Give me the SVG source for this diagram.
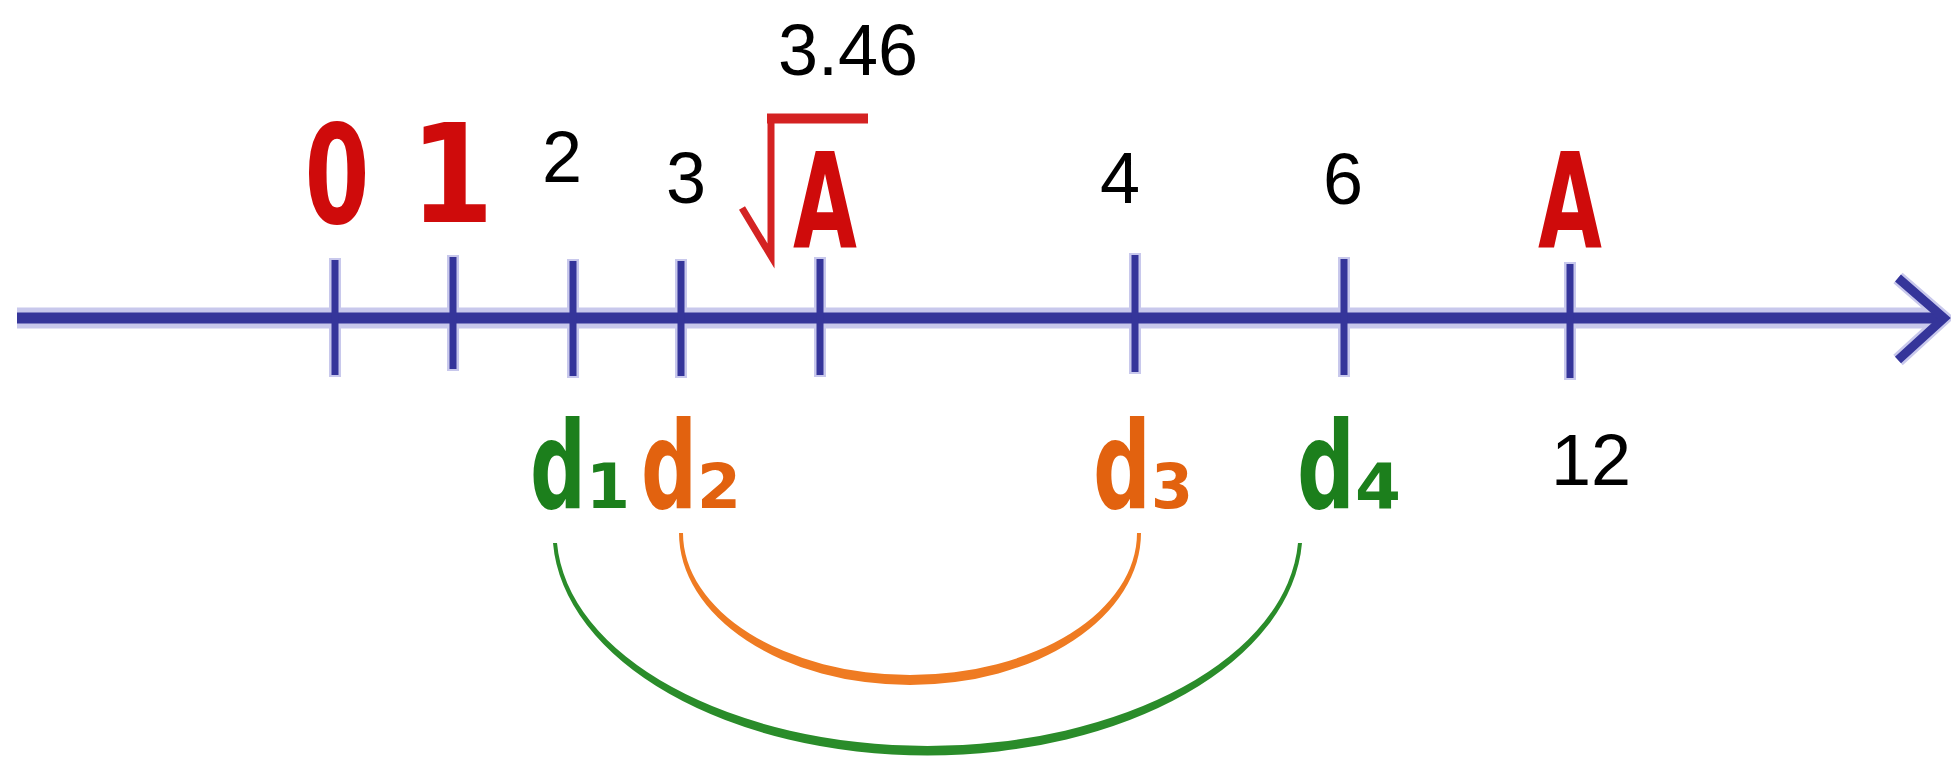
<svg xmlns="http://www.w3.org/2000/svg" width="1951" height="774" viewBox="0 0 1951 774">
<style>
.halo{stroke:#c8c8ec;fill:none;stroke-linecap:butt}
.core{stroke:#35359a;fill:none;stroke-linecap:butt}
.num{font-family:"Liberation Sans",Arial,sans-serif;font-size:72px;fill:#000;text-anchor:middle}
.red{font-family:"DejaVu Sans",sans-serif;font-weight:bold;fill:#cf0b0b;text-anchor:middle}
.dl{font-family:"DejaVu Sans",sans-serif;font-weight:bold}
.g{fill:#1c7f1c}
.o{fill:#e2620f}
.big{font-size:122px}
.sub{font-size:63px}
</style>
<rect width="1951" height="774" fill="#fff"/>
<g id="axis">
  <line class="halo" x1="17" y1="318" x2="1938" y2="318" stroke-width="21"/>
  <g class="halo" stroke-width="12">
    <line x1="335" y1="258" x2="335" y2="377"/>
    <line x1="453" y1="255" x2="453" y2="371"/>
    <line x1="573" y1="259" x2="573" y2="378"/>
    <line x1="681" y1="259" x2="681" y2="378"/>
    <line x1="820" y1="257" x2="820" y2="377"/>
    <line x1="1135" y1="253" x2="1135" y2="374"/>
    <line x1="1344" y1="257" x2="1344" y2="377"/>
    <line x1="1570" y1="262" x2="1570" y2="380"/>
  </g>
  <polyline class="halo" points="1898,278 1944,318 1898,360" stroke-width="14" stroke-linejoin="miter"/>
  <line class="core" x1="17" y1="318" x2="1940" y2="318" stroke-width="11"/>
  <polyline class="core" points="1898,278 1944,318 1898,360" stroke-width="9" stroke-linejoin="miter"/>
  <g class="core" stroke-width="7">
    <line x1="335" y1="260" x2="335" y2="375"/>
    <line x1="453" y1="257" x2="453" y2="369"/>
    <line x1="573" y1="261" x2="573" y2="376"/>
    <line x1="681" y1="261" x2="681" y2="376"/>
    <line x1="820" y1="259" x2="820" y2="375"/>
    <line x1="1135" y1="255" x2="1135" y2="372"/>
    <line x1="1344" y1="259" x2="1344" y2="375"/>
    <line x1="1570" y1="264" x2="1570" y2="378"/>
  </g>
</g>
<g id="label-0"><text class="red" font-size="137" x="337" y="223" textLength="65" lengthAdjust="spacingAndGlyphs">0</text></g>
<g id="label-1"><text class="red" font-size="137" x="452" y="222" textLength="84" lengthAdjust="spacingAndGlyphs">1</text></g>
<g id="label-2"><text class="num" x="562" y="182">2</text></g>
<g id="label-3"><text class="num" x="686" y="203">3</text></g>
<g id="label-346"><text class="num" x="848" y="75" font-size="77">3.46</text></g>
<g id="label-sqrtA">
  <path d="M742,208 L771,256 L771,118" fill="none" stroke="#d42222" stroke-width="7" stroke-linejoin="miter"/>
  <line x1="767" y1="118.5" x2="868" y2="118.5" stroke="#d42222" stroke-width="10"/>
  <text class="red" font-size="132" x="825" y="248" textLength="64" lengthAdjust="spacingAndGlyphs">A</text>
</g>
<g id="label-4"><text class="num" x="1120" y="203">4</text></g>
<g id="label-6"><text class="num" x="1343" y="204">6</text></g>
<g id="label-A"><text class="red" font-size="132" x="1570" y="248" textLength="64" lengthAdjust="spacingAndGlyphs">A</text></g>
<g id="label-12"><text class="num" x="1591" y="485">12</text></g>
<g id="label-d1">
  <text class="dl g" x="530" y="508"><tspan class="big" textLength="56" lengthAdjust="spacingAndGlyphs">d</tspan><tspan class="sub" textLength="44" lengthAdjust="spacingAndGlyphs">1</tspan></text>
</g>
<g id="label-d2">
  <text class="dl o" x="641" y="508"><tspan class="big" textLength="56" lengthAdjust="spacingAndGlyphs">d</tspan><tspan class="sub" textLength="44" lengthAdjust="spacingAndGlyphs">2</tspan></text>
</g>
<g id="label-d3">
  <text class="dl o" x="1093" y="508"><tspan class="big" textLength="58" lengthAdjust="spacingAndGlyphs">d</tspan><tspan class="sub" textLength="42" lengthAdjust="spacingAndGlyphs">3</tspan></text>
</g>
<g id="label-d4">
  <text class="dl g" x="1297" y="508"><tspan class="big" textLength="58" lengthAdjust="spacingAndGlyphs">d</tspan><tspan class="sub" textLength="46" lengthAdjust="spacingAndGlyphs">4</tspan></text>
</g>
<g id="connectors">
  <path d="M679,533 A231,152 0 0 0 1141,533 L1137,533 A227,142 0 0 1 683,533 Z" fill="#ef7b22"/>
  <path d="M553,543 A375,224 0 0 0 1302,543 L1298,543 A371,214 0 0 1 557,543 Z" fill="#2a8c2a"/>
</g>
</svg>
